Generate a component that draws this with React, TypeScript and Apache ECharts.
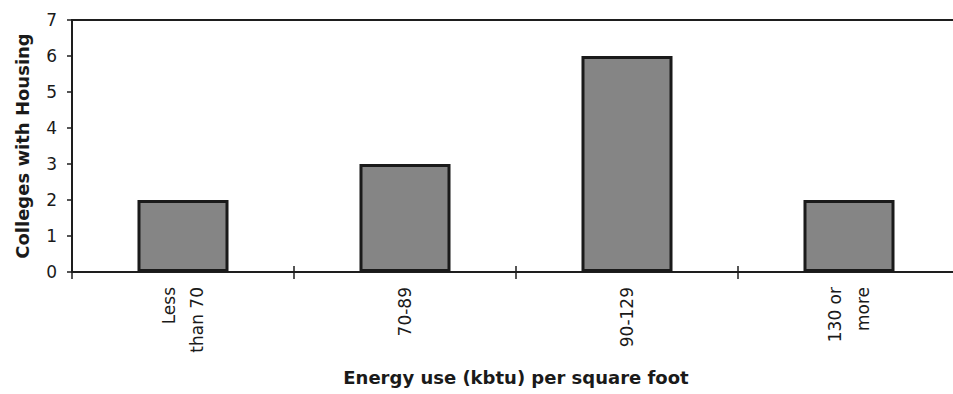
import React, { useEffect, useRef } from "react";
import * as echarts from "echarts";

const categories = ["Less\nthan 70", "70-89", "90-129", "130 or\nmore"];
const values = [2, 3, 6, 2];
const yTicks = [0, 1, 2, 3, 4, 5, 6, 7];
const xTitle = "Energy use (kbtu) per square foot";
const yTitle = "Colleges with Housing";

export default function App() {
  const ref = useRef<HTMLDivElement>(null);
  useEffect(() => {
    if (!ref.current) return;
    const chart = echarts.init(ref.current, null, { renderer: "svg" });
    const font = "DejaVu Sans, Liberation Sans, Arial, sans-serif";
    chart.setOption({
      animation: false,
      backgroundColor: "#ffffff",
      grid: {
        left: 72,
        top: 20,
        width: 888,
        height: 252,
        outerBoundsMode: "none",
        containLabel: false,
        show: true,
        borderColor: "#1e1e1e",
        borderWidth: 2,
        backgroundColor: "transparent",
      },
      xAxis: [
        {
          type: "category",
          data: categories,
          name: xTitle,
          nameLocation: "middle",
          nameGap: 96,
          nameTextStyle: { fontFamily: font, fontSize: 18, fontWeight: "bold", color: "#1a1a1a" },
          axisLine: { lineStyle: { color: "#1e1e1e", width: 2 } },
          axisTick: { show: true, length: 7, lineStyle: { color: "#1e1e1e", width: 1.5 } },
          axisLabel: {
            rotate: 90,
            margin: 15,
            fontFamily: font,
            fontSize: 17,
            color: "#1a1a1a",
            lineHeight: 28,
            interval: 0,
          },
        },
        {
          type: "category",
          data: categories,
          position: "bottom",
          axisLine: { show: false },
          axisTick: { show: true, inside: true, length: 6, lineStyle: { color: "#1e1e1e", width: 1.5 } },
          axisLabel: { show: false },
        },
      ],
      yAxis: {
        type: "value",
        min: yTicks[0],
        max: yTicks[yTicks.length - 1],
        interval: 1,
        name: yTitle,
        nameLocation: "middle",
        nameGap: 41,
        nameTextStyle: { fontFamily: font, fontSize: 18, fontWeight: "bold", color: "#1a1a1a" },
        axisLine: { show: true, lineStyle: { color: "#1e1e1e", width: 2 } },
        axisTick: { show: true, length: 5, lineStyle: { color: "#1e1e1e", width: 1.5 } },
        axisLabel: { margin: 15, fontFamily: font, fontSize: 17, color: "#1a1a1a" },
        splitLine: { show: false },
      },
      series: [
        {
          type: "bar",
          data: values,
          xAxisIndex: 0,
          barWidth: "41%",
          itemStyle: { color: "#858585", borderColor: "#1a1a1a", borderWidth: 3 },
        },
      ],
    });
    return () => chart.dispose();
  }, []);
  return <div ref={ref} style={{ width: 953, height: 394, position: "absolute", left: 0, top: 0 }} />;
}
